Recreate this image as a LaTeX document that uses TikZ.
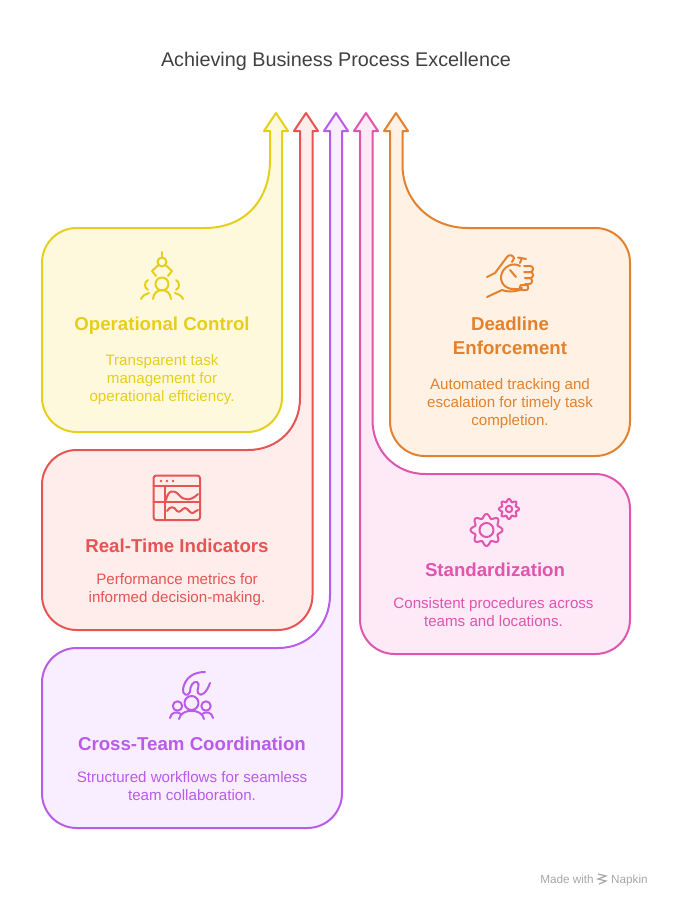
\documentclass[tikz,border=0pt]{standalone}
\usepackage{fontspec}
\setmainfont{Liberation Sans}
\usetikzlibrary{positioning}
\definecolor{opline}{HTML}{E6CF1C}\definecolor{opfill}{HTML}{FEF9DC}
\definecolor{rtline}{HTML}{E65454}\definecolor{rtfill}{HTML}{FFEDEB}
\definecolor{ctline}{HTML}{B95CE8}\definecolor{ctfill}{HTML}{F9EEFF}
\definecolor{stline}{HTML}{E055AE}\definecolor{stfill}{HTML}{FEE9F7}
\definecolor{deline}{HTML}{E2822E}\definecolor{defill}{HTML}{FFF1E4}
\tikzset{
  flow/.style={line width=1.5pt,line join=round},
  glyph/.style={line width=1.5pt,line cap=round,line join=round},
  heading/.style={font=\fontsize{14}{18}\selectfont\bfseries,align=center,inner sep=0pt},
  blurb/.style={font=\fontsize{11.35}{13.5}\selectfont,align=center,inner sep=0pt},
}
\begin{document}
\begin{tikzpicture}[x=0.75pt,y=-0.75pt]
  \useasboundingbox (0,0) rectangle (672,906);
  \node[font=\fontsize{14.85}{18}\selectfont,text=black!75,inner sep=0pt] (title) at (336,61) {Achieving Business Process Excellence};
  % arrows with their boxes
  \draw[flow,draw=opline,fill=opfill] (270,160) .. controls (270,200) and (245,228) .. (205,228)
    [rounded corners=26pt] -- (42,228) -- (42,432) -- (282,432) -- (282,300) [sharp corners] -- (282,131) -- (288,131) -- (276,113) -- (264,131) -- (270,131) -- cycle;
  \draw[flow,draw=rtline,fill=rtfill] (300,398) .. controls (300,428) and (278,450) .. (248,450)
    [rounded corners=26pt] -- (42,450) -- (42,630) -- (312.5,630) -- (312.5,400) [sharp corners] -- (312.5,131) -- (318,131) -- (306,113) -- (294,131) -- (300,131) -- cycle;
  \draw[flow,draw=ctline,fill=ctfill] (330,595) .. controls (330,625) and (308,648) .. (278,648)
    [rounded corners=26pt] -- (42,648) -- (42,828) -- (342,828) -- (342,600) [sharp corners] -- (342,131) -- (348,131) -- (336,113) -- (324,131) -- (330,131) -- cycle;
  \draw[flow,draw=stline,fill=stfill] (372.5,420) .. controls (372.5,450) and (395,474) .. (425,474)
    [rounded corners=26pt] -- (630,474) -- (630,654) -- (360,654) -- (360,400) [sharp corners] -- (360,131) -- (354,131) -- (366,113) -- (378,131) -- (372.5,131) -- cycle;
  \draw[flow,draw=deline,fill=defill] (402.5,165) .. controls (402.5,200) and (430,228) .. (468,228)
    [rounded corners=26pt] -- (630,228) -- (630,456) -- (390,456) -- (390,300) [sharp corners] -- (390,131) -- (384,131) -- (396,113) -- (408,131) -- (402.5,131) -- cycle;
  % labels
  \node[heading,text=opline] (opHead) at (162,326) {Operational Control};
  \node[blurb,text=opline] (opText) at (162,380) {Transparent task\\management for\\operational efficiency.};
  \node[heading,text=rtline] (rtHead) at (177,546) {Real-Time Indicators};
  \node[blurb,text=rtline] (rtText) at (177,590) {Performance metrics for\\informed decision-making.};
  \node[heading,text=ctline] (ctHead) at (192,744) {Cross-Team Coordination};
  \node[blurb,text=ctline] (ctText) at (192,786) {Structured workflows for seamless\\team collaboration.};
  \node[heading,text=stline] (stHead) at (495,570) {Standardization};
  \node[blurb,text=stline] (stText) at (493.5,612) {Consistent procedures across\\teams and locations.};
  \node[heading,text=deline] (deHead) at (510,336) {Deadline\\Enforcement};
  \node[blurb,text=deline] (deText) at (510,404) {Automated tracking and\\escalation for timely task\\completion.};
  % operational control icon
  \begin{scope}[glyph,draw=opline]
    \draw (162,262) circle (4.5);
    \draw (162,252) -- (162,257.5);
    \draw (158.5,265) -- (152,271) -- (156,276);
    \draw (165.5,265) -- (172,271) -- (168,276);
    \draw (162,284) circle (6.5);
    \draw (153,299) .. controls (154,287) and (170,287) .. (171,299);
    \draw (148,280) .. controls (144,282) and (144,288) .. (148,290);
    \draw (176,280) .. controls (180,282) and (180,288) .. (176,290);
    \draw (141,299) .. controls (143,295) and (146,294) .. (149,293);
    \draw (183,299) .. controls (181,295) and (178,294) .. (175,293);
  \end{scope}
  % deadline icon
  \begin{scope}[glyph,draw=deline]
    \draw (520,266) .. controls (513,262) and (503,266) .. (501,276) .. controls (500,286) and (510,292) .. (522,288);
    \draw (510,270) -- (516,277);
    \draw (520,263) -- (522,258) (518,257.5) -- (526,259);
    \draw[rounded corners=2pt] (524,266) -- (533,266) -- (533,272) -- (524,272);
    \draw[rounded corners=2pt] (525,272) -- (533,272) -- (533,278) -- (525,278);
    \draw[rounded corners=2pt] (525,278) -- (532,278) -- (532,284) -- (525,284);
    \draw[rounded corners=1pt] (520,285) -- (528,285) -- (528,290) -- (520,290) -- cycle;
    \draw (487,277) -- (495,273) -- (507,257) .. controls (509,254) and (513,255) .. (514,258) -- (512,262);
    \draw (487,297) -- (502,290) .. controls (507,292) and (513,292) .. (520,290);
  \end{scope}
  % indicators icon
  \begin{scope}[glyph,draw=rtline]
    \draw[rounded corners=2pt] (153.5,475.5) rectangle (200,520);
    \draw (153.5,485.5) -- (200,485.5) (165,485.5) -- (165,520) (153.5,502) -- (200,502);
    \foreach \dotx in {161,167,173} \fill[rtline] (\dotx,481) circle (1.4);
    \draw (166,500) .. controls (168,490) and (174,489) .. (179,495) .. controls (184,501) and (191,501) .. (198,494);
    \draw (167,511) .. controls (170,506) and (174,506) .. (177,511) .. controls (180,514) and (182,508) .. (185,508) .. controls (188,508) and (190,514) .. (193,513) .. controls (195,512) and (197,510) .. (198,510);
  \end{scope}
  % standardization icon
  \begin{scope}[glyph,draw=stline]
    \draw[smooth,samples=145,domain=0:360] plot ({486.5+(14+2*cos(8*\x))*cos(\x)},{530+(14+2*cos(8*\x))*sin(\x)});
    \draw (486.5,530) circle (7);
    \draw[smooth,samples=97,domain=0:360] plot ({509+(8.7+1.4*cos(8*\x))*cos(\x)},{509+(8.7+1.4*cos(8*\x))*sin(\x)});
    \draw (509,509) circle (3.2);
  \end{scope}
  % coordination icon
  \begin{scope}[glyph,draw=ctline]
    \draw (191.5,703) circle (7);
    \draw (177.5,706) circle (4.7);
    \draw (206,706) circle (4.7);
    \draw (179,719) .. controls (181,708) and (202,708) .. (204,719);
    \draw (170,718) .. controls (171,712) and (177,711) .. (181,714);
    \draw (213,718) .. controls (212,712) and (206,711) .. (202,714);
    \draw (205,672) .. controls (193,672) and (185,678) .. (183,689) .. controls (182,695) and (188,697) .. (190,692) .. controls (190,686) and (193,681) .. (197,682) .. controls (201,684) and (196,690) .. (198,693) .. controls (201,698) and (207,692) .. (210,683);
  \end{scope}
  % footer
  \node[font=\fontsize{8.8}{10}\selectfont,text=black!35,inner sep=0pt,anchor=base west] (madeWith) at (540,883) {Made with};
  \node[font=\fontsize{8.8}{10}\selectfont,text=black!35,inner sep=0pt,anchor=base east] (napkin) at (648,883) {Napkin};
  \draw[black!35,line width=0.9pt] (598,874) -- (606,876) -- (598,879) -- (606,881) -- (599,884);
\end{tikzpicture}
\end{document}
